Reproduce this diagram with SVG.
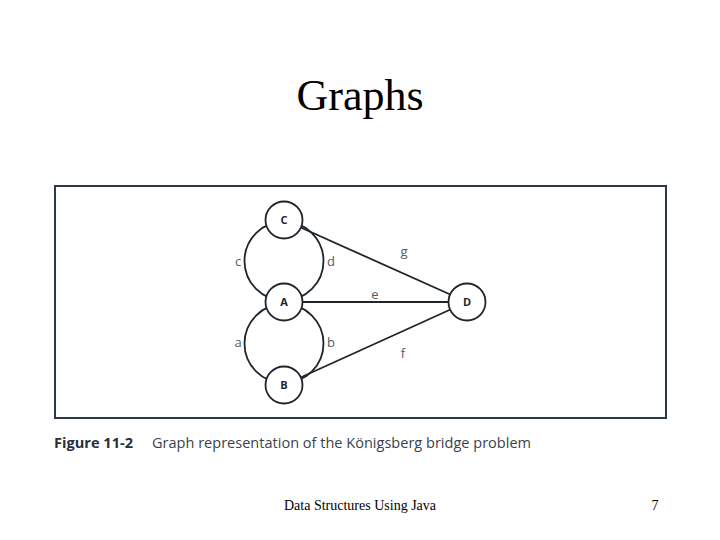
<svg xmlns="http://www.w3.org/2000/svg" width="720" height="540" viewBox="0 0 720 540">
<style>
.edge{fill:none;stroke:#1e252b;stroke-width:1.8}
.node circle{fill:#ffffff;stroke:#1e252b;stroke-width:1.8}
.node text{font-family:"Open Sans","Liberation Sans",sans-serif;font-weight:bold;font-size:11px;fill:#1e252b;text-anchor:middle}
.elab{font-family:"Open Sans","Liberation Sans",sans-serif;font-size:13px;fill:#555b60;text-anchor:middle}
</style>
<rect width="720" height="540" fill="#ffffff"/>
<text x="360" y="110" font-family="'Liberation Serif',serif" font-size="44" text-anchor="middle" fill="#000">Graphs</text>
<rect x="55" y="186" width="611" height="232" fill="none" stroke="#2d3944" stroke-width="2"/>
<g id="connectors">
<circle class="edge" cx="284" cy="261" r="39.5"/>
<circle class="edge" cx="284" cy="343.5" r="39.5"/>
<line class="edge" x1="284" y1="220" x2="467" y2="302"/>
<line class="edge" x1="284" y1="302" x2="467" y2="302"/>
<line class="edge" x1="284" y1="385" x2="467" y2="302"/>
<text class="elab" x="238" y="266">c</text>
<text class="elab" x="331" y="266">d</text>
<text class="elab" x="238" y="347">a</text>
<text class="elab" x="331" y="347">b</text>
<text class="elab" x="404" y="256">g</text>
<text class="elab" x="375" y="299">e</text>
<text class="elab" x="403" y="358">f</text>
</g>
<g id="node-C" class="node"><circle cx="284" cy="220" r="18.5"/><text x="284" y="224">C</text></g>
<g id="node-A" class="node"><circle cx="284" cy="302" r="18.5"/><text x="284" y="306">A</text></g>
<g id="node-B" class="node"><circle cx="284" cy="385" r="18.5"/><text x="284" y="389">B</text></g>
<g id="node-D" class="node"><circle cx="467" cy="302" r="18.5"/><text x="467" y="306">D</text></g>
<text x="54" y="448" font-family="'Open Sans','Liberation Sans',sans-serif" font-weight="bold" font-size="15" fill="#27313b" textLength="79" lengthAdjust="spacingAndGlyphs">Figure 11-2</text>
<text x="152" y="448" font-family="'Open Sans','Liberation Sans',sans-serif" font-size="15" fill="#3a434b" textLength="379" lengthAdjust="spacingAndGlyphs">Graph representation of the Königsberg bridge problem</text>
<text x="360" y="510" font-family="'Liberation Serif',serif" font-size="14" text-anchor="middle" fill="#000">Data Structures Using Java</text>
<text x="655" y="510" font-family="'Liberation Serif',serif" font-size="14" text-anchor="middle" fill="#000">7</text>
</svg>
